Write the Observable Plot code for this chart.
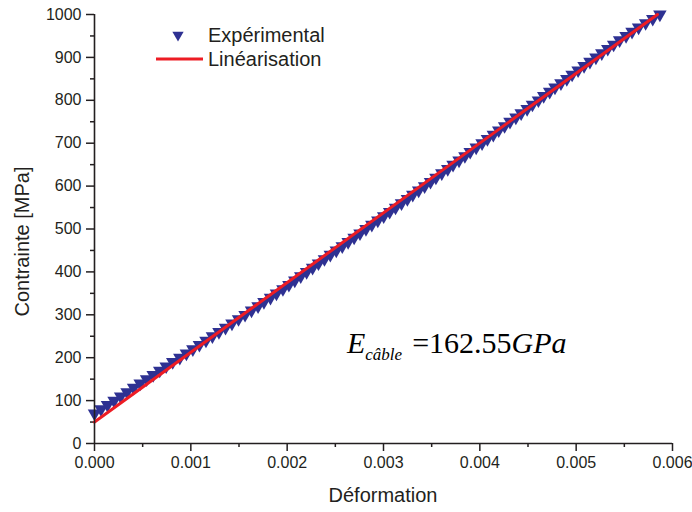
<!DOCTYPE html>
<html>
<head>
<meta charset="utf-8">
<script src="https://cdn.jsdelivr.net/npm/d3@7"></script>
<script src="https://cdn.jsdelivr.net/npm/@observablehq/plot@0.6"></script>
<style>
  html, body { margin: 0; padding: 0; background: #fff; }
</style>
</head>
<body>
<script>
// Experimental data (strain, stress in MPa)
const stress = [70,80,90,100,110,120,130,140,150,160,170,180,190,200,210,220,230,240,250,260,
  270,280,290,300,310,320,330,340,350,360,370,380,390,400,410,420,430,440,450,460,
  470,480,490,500,510,520,530,540,550,560,570,580,590,600,610,620,630,640,650,660,
  670,680,690,700,710,720,730,740,750,760,770,780,790,800,810,820,830,840,850,860,
  870,880,890,900,910,920,930,940,950,960,970,980,990,1000];
const strain = [0.000000,0.0000677,0.000135,0.000203,0.000271,0.000338,0.000406,0.000474,0.000541,0.000609,
  0.000677,0.000744,0.000812,0.000886,0.000954,0.001021,0.001089,0.001157,0.001224,0.001292,
  0.001360,0.001427,0.001495,0.001563,0.001630,0.001698,0.001759,0.001827,0.001889,0.001956,
  0.002018,0.002079,0.002141,0.002202,0.002264,0.002325,0.002387,0.002448,0.002510,0.002572,
  0.002633,0.002695,0.002756,0.002818,0.002879,0.002941,0.003002,0.003064,0.003125,0.003187,
  0.003248,0.003304,0.003365,0.003427,0.003488,0.003544,0.003605,0.003667,0.003722,0.003784,
  0.003845,0.003900,0.003962,0.004023,0.004079,0.004140,0.004196,0.004257,0.004313,0.004374,
  0.004429,0.004491,0.004546,0.004608,0.004663,0.004725,0.004780,0.004842,0.004903,0.004958,
  0.005020,0.005082,0.005143,0.005205,0.005266,0.005328,0.005389,0.005451,0.005518,0.005580,
  0.005648,0.005721,0.005795,0.005869];

// Linear fit endpoints
const fitStrain = [0, 0.005844];
const fitStress = [50, 1000];

// Ticks
const xTicks = [0, 0.001, 0.002, 0.003, 0.004, 0.005, 0.006];
const xMinor = [0.0005, 0.0015, 0.0025, 0.0035, 0.0045, 0.0055];
const yTicks = [0,100,200,300,400,500,600,700,800,900,1000];
const yMinor = [50,150,250,350,450,550,650,750,850,950];

const legendLabels = ["Expérimental", "Linéarisation"];
const modulusText = "=162.55";

const blue = "#2e3192";
const red = "#ed1c24";
const ink = "#231f20";

const expData = strain.map((s, i) => ({x: s, y: stress[i]}));
const fitData = fitStrain.map((s, i) => ({x: s, y: fitStress[i]}));

const W = 692, H = 512;
const mL = 94, mR = 20, mT = 14, mB = 69;
const sans = "'Liberation Sans', Arial, sans-serif";

const plot = Plot.plot({
  width: W,
  height: H,
  marginLeft: mL,
  marginRight: mR,
  marginTop: mT,
  marginBottom: mB,
  style: {fontFamily: sans, fontSize: "16px", color: ink, background: "#fff"},
  x: {domain: [0, 0.006]},
  y: {domain: [0, 1000]},
  marks: [
    Plot.axisX({ticks: xTicks, tickSize: 8, tickPadding: 5, tickFormat: d3.format(".3f"), label: null, stroke: ink, strokeWidth: 1.5, strokeOpacity: 1}),
    Plot.axisX({ticks: xMinor, tickSize: 4, tickFormat: () => "", label: null, stroke: ink, strokeWidth: 1.5, strokeOpacity: 1}),
    Plot.axisY({ticks: yTicks, tickSize: 8, tickPadding: 5, tickFormat: d3.format("d"), label: null, stroke: ink, strokeWidth: 1.5, strokeOpacity: 1}),
    Plot.axisY({ticks: yMinor, tickSize: 4, tickFormat: () => "", label: null, stroke: ink, strokeWidth: 1.5, strokeOpacity: 1}),
    Plot.dot(expData, {x: "x", y: "y", symbol: "triangle", rotate: 180, r: 5, fill: blue, stroke: "none"}),
    Plot.line(fitData, {x: "x", y: "y", stroke: red, strokeWidth: 3}),
    Plot.ruleX([0], {stroke: ink, strokeWidth: 1.6}),
    Plot.ruleY([0], {stroke: ink, strokeWidth: 1.6})
  ]
});

document.body.appendChild(plot);

const svg = d3.select(plot);
const sx = plot.scale("x"), sy = plot.scale("y");
const px0 = sx.apply(0), px1 = sx.apply(0.006);
const py0 = sy.apply(0), py1 = sy.apply(1000);

// Axis titles
svg.append("text")
  .attr("x", (px0 + px1) / 2)
  .attr("y", H - 10)
  .attr("text-anchor", "middle")
  .attr("font-family", sans)
  .attr("font-size", 20)
  .attr("fill", ink)
  .text("Déformation");

svg.append("text")
  .attr("transform", `translate(29,${(py0 + py1) / 2 + 13}) rotate(-90)`)
  .attr("text-anchor", "middle")
  .attr("font-family", sans)
  .attr("font-size", 20)
  .attr("fill", ink)
  .text("Contrainte [MPa]");

// Legend
const lg = svg.append("g").attr("font-family", sans).attr("font-size", 20).attr("fill", ink).attr("text-anchor", "start");
const legX = px0 + 84, legY1 = py1 + 21, legY2 = py1 + 45;
lg.append("path")
  .attr("d", d3.symbol(d3.symbolTriangle, 55)())
  .attr("transform", `translate(${legX},${legY1}) rotate(180)`)
  .attr("fill", blue);
lg.append("line")
  .attr("x1", legX - 22).attr("x2", legX + 25)
  .attr("y1", legY2).attr("y2", legY2)
  .attr("stroke", red).attr("stroke-width", 3);
lg.append("text").attr("x", legX + 30).attr("y", legY1 + 7).text(legendLabels[0]);
lg.append("text").attr("x", legX + 30).attr("y", legY2 + 7).text(legendLabels[1]);

// Modulus annotation
const ann = svg.append("text")
  .attr("x", 347)
  .attr("y", 353)
  .attr("text-anchor", "start")
  .attr("font-family", "'Liberation Serif', 'Times New Roman', serif")
  .attr("font-size", 30)
  .attr("fill", "#000");
ann.append("tspan").attr("font-style", "italic").text("E");
ann.append("tspan").attr("font-style", "italic").attr("font-size", 17).attr("dx", 0).attr("dy", 7).text("câble");
ann.append("tspan").attr("dy", -7).attr("dx", 10).text(modulusText);
ann.append("tspan").attr("font-style", "italic").text("GPa");
</script>
</body>
</html>
